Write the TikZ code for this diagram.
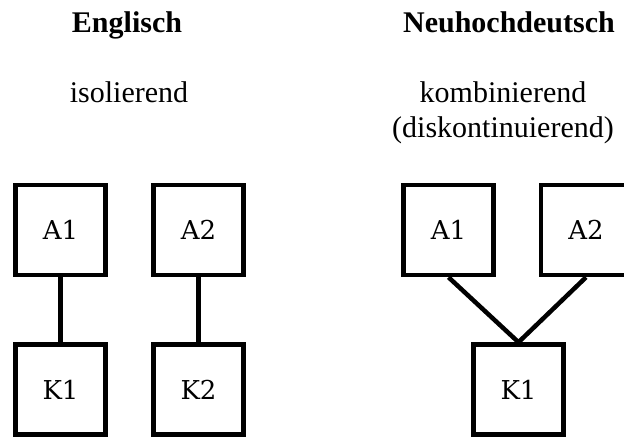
\documentclass[tikz,border=0pt]{standalone}
\usepackage{fontspec}
\setmainfont{Liberation Serif}
\newfontfamily\boxfont{DejaVu Serif}
\begin{document}
\begin{tikzpicture}[x=1pt,y=1pt,
  unit/.style={draw, line width=4.5pt, minimum size=90pt, inner sep=0pt,
               font=\boxfont\fontsize{26}{30}\selectfont},
  link/.style={line width=4.5pt},
  heading/.style={anchor=base, font=\bfseries\fontsize{30}{35}\selectfont},
  kind/.style={anchor=base, align=center, font=\fontsize{30}{35}\selectfont}]
\useasboundingbox (0,0) rectangle (624,-437);

% English: isolating
\node[heading] (hEn) at (127,-32) {Englisch};
\node[kind] (kEn) at (129,-102) {isolierend};
\node[unit] (enA1) at (60.5,-230) {A1};
\node[unit] (enA2) at (198.5,-230) {A2};
\node[unit] (enK1) at (60.5,-389.5) {K1};
\node[unit] (enK2) at (198.5,-389.5) {K2};
\draw[link] (enA1.south) -- (enK1.north);
\draw[link] (enA2.south) -- (enK2.north);

% New High German: combining (the base anchor sits on the last line)
\node[heading] (hDe) at (509,-32) {Neuhochdeutsch};
\node[kind] (kDe) at (503,-137) {kombinierend\\(diskontinuierend)};
\node[unit] (deA1) at (448.5,-230) {A1};
\node[unit] (deA2) at (586,-230) {A2};
\node[unit] (deK1) at (518.5,-389.5) {K1};
\draw[link] (deA1.south) -- (deK1.north);
\draw[link] (deA2.south) -- (deK1.north);
\end{tikzpicture}
\end{document}
